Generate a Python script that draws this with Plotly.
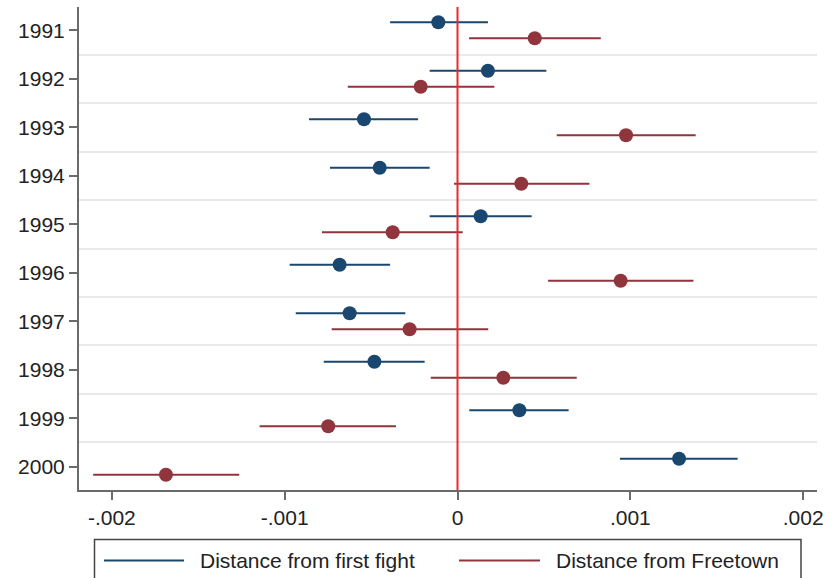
import plotly.graph_objects as go

# Coefficient estimates with 95% confidence bounds, by year
years = [1991, 1992, 1993, 1994, 1995, 1996, 1997, 1998, 1999, 2000]

first_fight_est = [-0.000111, 0.000176, -0.000541, -0.000450, 0.000134,
                   -0.000682, -0.000624, -0.000481, 0.000358, 0.001282]
first_fight_lo = [-0.000390, -0.000161, -0.000859, -0.000738, -0.000161,
                  -0.000971, -0.000936, -0.000774, 0.000068, 0.000940]
first_fight_hi = [0.000176, 0.000514, -0.000228, -0.000161, 0.000429,
                  -0.000390, -0.000302, -0.000190, 0.000643, 0.001621]

freetown_est = [0.000447, -0.000213, 0.000975, 0.000369, -0.000375,
                0.000944, -0.000277, 0.000265, -0.000748, -0.001687]
freetown_lo = [0.000067, -0.000635, 0.000574, -0.000020, -0.000784,
               0.000524, -0.000728, -0.000155, -0.001145, -0.002108]
freetown_hi = [0.000829, 0.000213, 0.001378, 0.000763, 0.000030,
               0.001365, 0.000178, 0.000690, -0.000356, -0.001263]

series_names = ["Distance from first fight", "Distance from Freetown"]
x_ticks = [-0.002, -0.001, 0, 0.001, 0.002]
x_tick_labels = ["-.002", "-.001", "0", ".001", ".002"]

BLUE = "#1a476f"
RED = "#90353b"
ZERO_RED = "#e8292f"
AXIS = "#6b6b6b"
TEXT = "#222222"
FONT = "Liberation Sans, Arial, sans-serif"

W, H = 834, 578
M_L, M_R, M_T, M_B = 79, 17, 7, 88
OFFSET = 0.165


def px_x(p):
    return (p - M_L) / (W - M_L - M_R)


def px_y(p):
    return (H - M_B - p) / (H - M_T - M_B)


def add_series(fig, est, lo, hi, shift, color):
    fig.add_trace(go.Scatter(
        x=est,
        y=[y + shift for y in years],
        mode="markers",
        marker=dict(color=color, size=14, line=dict(width=0)),
        error_x=dict(
            type="data", symmetric=False,
            array=[h - e for h, e in zip(hi, est)],
            arrayminus=[e - l for e, l in zip(est, lo)],
            color=color, thickness=2, width=0,
        ),
        showlegend=False,
        hoverinfo="x+y",
    ))


fig = go.Figure()
add_series(fig, first_fight_est, first_fight_lo, first_fight_hi, -OFFSET, BLUE)
add_series(fig, freetown_est, freetown_lo, freetown_hi, OFFSET, RED)

# reference line at zero
fig.add_shape(type="line", xref="x", yref="paper", x0=0, x1=0, y0=0, y1=1,
              line=dict(color=ZERO_RED, width=2), layer="above")

# legend box drawn below the plot
fig.add_shape(type="rect", xref="paper", yref="paper",
              x0=px_x(94.5), x1=px_x(801), y0=px_y(539.5), y1=px_y(600),
              line=dict(color="#444444", width=1.5), fillcolor="white")
legend_items = [(104, 184, 198, BLUE), (459, 540, 554, RED)]
for name, (l0, l1, tx, col) in zip(series_names, legend_items):
    fig.add_shape(type="line", xref="paper", yref="paper",
                  x0=px_x(l0), x1=px_x(l1), y0=px_y(560.5), y1=px_y(560.5),
                  line=dict(color=col, width=2))
    fig.add_annotation(text=name, xref="paper", yref="paper",
                       x=px_x(tx), y=px_y(560), xanchor="left", yanchor="middle",
                       showarrow=False, font=dict(size=21, color=TEXT, family=FONT))

fig.update_layout(
    width=W, height=H,
    margin=dict(l=M_L, r=M_R, t=M_T, b=M_B, pad=0),
    paper_bgcolor="white", plot_bgcolor="white",
    font=dict(family=FONT, size=21, color=TEXT),
    showlegend=False,
    xaxis=dict(
        range=[-0.00219, 0.00208],
        tickvals=x_ticks, ticktext=x_tick_labels,
        ticks="outside", ticklen=8, tickwidth=1.5, tickcolor=AXIS,
        showline=True, linecolor=AXIS, linewidth=2,
        showgrid=False, zeroline=False,
        tickfont=dict(size=21, color=TEXT),
    ),
    yaxis=dict(
        range=[2000.48, 1990.52],
        tickvals=years, ticktext=[str(y) for y in years],
        ticks="outside", ticklen=8, tickwidth=1.5, tickcolor=AXIS,
        showline=True, linecolor=AXIS, linewidth=2,
        showgrid=False, zeroline=False,
        tickfont=dict(size=21, color=TEXT),
        minor=dict(tickvals=[y + 0.5 for y in years[:-1]], showgrid=True,
                   gridcolor="#e9e9e9", gridwidth=1.5, ticks=""),
    ),
)

fig.write_html("out.html")
